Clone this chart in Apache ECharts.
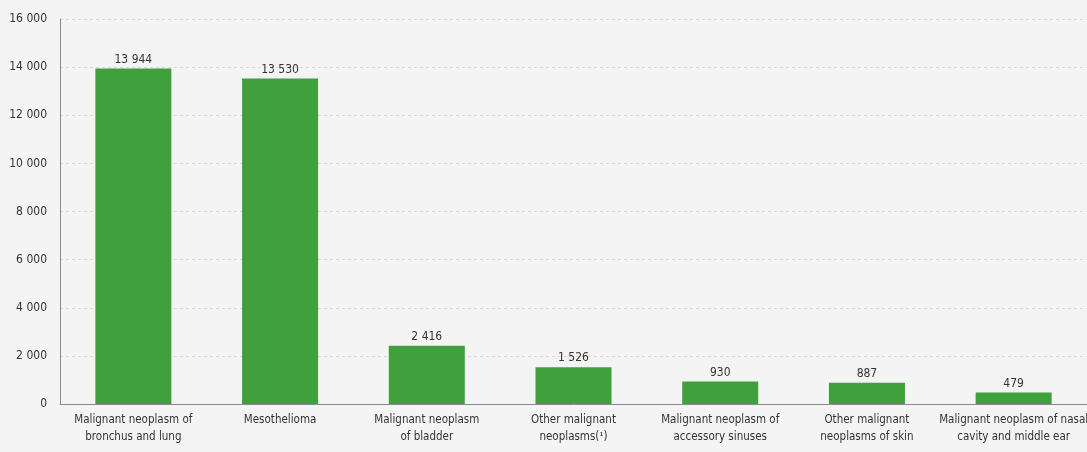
<!DOCTYPE html>
<html><head><meta charset="utf-8">
<script src="https://cdn.jsdelivr.net/npm/echarts@6/dist/echarts.min.js"></script>
<style>html,body{margin:0;padding:0;background:#f4f4f4;}#c{width:1087px;height:452px;}</style>
</head><body><div id="c"></div>
<script>
const categories = [
  "Malignant neoplasm of\nbronchus and lung",
  "Mesothelioma",
  "Malignant neoplasm\nof bladder",
  "Other malignant\nneoplasms(¹)",
  "Malignant neoplasm of\naccessory sinuses",
  "Other malignant\nneoplasms of skin",
  "Malignant neoplasm of nasal\ncavity and middle ear"
];
const values = [13944, 13530, 2416, 1526, 930, 887, 479];
const yTicks = [0, 2000, 4000, 6000, 8000, 10000, 12000, 14000, 16000];

const fmt = v => String(v).replace(/\B(?=(\d{3})+(?!\d))/g, ' ');
const font = "'Liberation Sans Narrow', 'DejaVu Sans Condensed', sans-serif";
const chart = echarts.init(document.getElementById('c'));
chart.setOption({
  backgroundColor: '#f4f4f4',
  animation: false,
  grid: { left: 60, right: 0, top: 19, bottom: 48, containLabel: false, outerBoundsMode: 'none' },
  xAxis: {
    type: 'category', data: categories,
    axisLine: { lineStyle: { color: '#8a8a8a', width: 1 } },
    axisTick: { show: false },
    axisLabel: { interval: 0, color: '#333', fontFamily: font, fontSize: 11.5, lineHeight: 17, margin: 8 }
  },
  yAxis: {
    type: 'value', min: yTicks[0], max: yTicks[yTicks.length - 1], interval: 2000,
    axisLine: { show: true, lineStyle: { color: '#8a8a8a', width: 1 } },
    axisTick: { show: false },
    splitLine: { lineStyle: { color: '#d8d8d8', type: [3, 3] } },
    axisLabel: { color: '#333', fontFamily: font, fontSize: 12, margin: 13, formatter: v => fmt(v) }
  },
  series: [{
    type: 'bar', data: values, barWidth: 76,
    itemStyle: { color: '#40a03c' },
    label: { show: true, position: 'top', distance: 3, color: '#333', fontFamily: font, fontSize: 12, formatter: p => fmt(p.value) }
  }]
});
</script></body></html>
